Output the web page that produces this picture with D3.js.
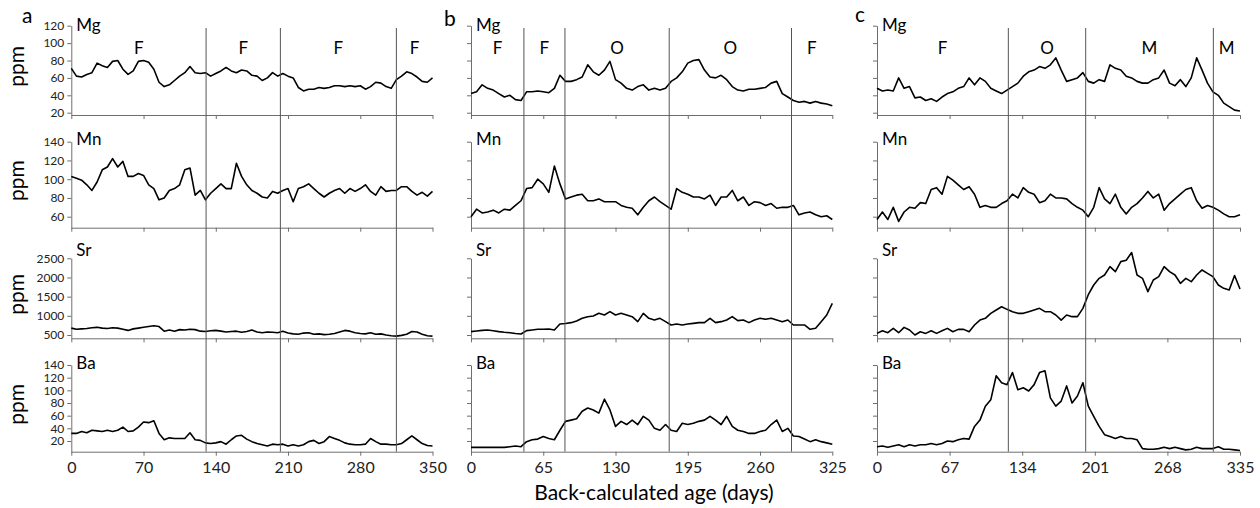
<!DOCTYPE html>
<html>
<head>
<meta charset="utf-8">
<title>Trace elements vs back-calculated age</title>
<script src="https://d3js.org/d3.v7.min.js"></script>
<style>
  body { margin: 0; background: #fff; }
  svg { font-family: Lato, "Open Sans", sans-serif; }
</style>
</head>
<body>
<svg id="chart" width="1260" height="508"></svg>
<script>
// values every 5 days
let mgA = [71,62,61,64,66,77,74,72,79,80, 70,64,68,79,80,78,70,55,50,52, 57,62,66,73,66,65,66,62,65,68,
  72,68,66,69,68,63,62,57,60,66, 62,65,62,60,49,45,47,47,49,48, 49,51,51,50,51,50,51,47,50,55,
  54,50,48,58,62,67,65,61,56,55, 60];
let mnA = [103,101,99,94,88,97,110,113,122,113, 119,103,103,106,104,94,90,78,80,88, 90,94,110,112,83,88,78,85,90,95,
  90,90,117,103,94,88,85,81,80,87, 85,88,90,76,90,92,95,90,85,81, 85,88,90,85,90,87,90,94,87,83,
  92,87,88,88,92,92,87,83,86,82, 87];
let srA = [680,650,660,670,690,700,680,670,690,680, 650,620,660,680,700,720,740,720,600,630, 600,640,630,650,640,600,590,610,620,600,
  580,590,600,570,590,630,580,560,580,570, 560,600,550,530,520,550,560,520,530,510, 520,540,580,620,600,560,540,530,560,520,
  530,500,480,470,490,520,590,580,520,480, 470];
let baA = [32,32,35,33,37,36,35,37,35,37, 42,35,36,42,50,49,52,32,22,25, 24,24,24,33,22,21,17,16,17,19,
  15,22,28,29,23,19,16,14,12,15, 14,15,12,14,12,14,19,21,16,19, 27,24,21,17,15,14,14,15,24,19,
  15,15,14,14,16,22,28,22,16,13, 12];

let mgB = [42,44,52,48,46,42,38,40,35,34, 44,44,45,44,43,48,63,56,56,58, 61,75,67,63,69,79,58,54,48,46,
  50,52,46,48,46,48,56,60,67,77, 80,81,69,61,60,63,58,50,46,45, 47,47,48,49,54,56,42,38,34,32,
  33,31,33,31,30,28];
let mnB = [60,68,64,65,67,64,68,67,72,77, 90,91,100,95,86,114,95,79,81,83, 84,77,77,79,76,76,76,72,70,69,
  62,70,77,81,76,72,68,90,86,84, 81,81,79,83,72,81,81,88,77,81, 72,76,75,72,74,69,70,70,72,62,
  64,65,62,60,61,57];
let srB = [587,605,620,630,610,587,570,560,540,525, 613,630,648,650,657,630,787,800,822,865, 935,978,996,1065,1022,1109,1022,1065,1022,978,
  850,1065,935,891,935,848,761,787,761,787, 804,822,822,935,822,848,891,978,874,891, 822,891,935,909,935,891,848,891,761,761,
  761,648,674,848,1022,1326];
let baB = [10,10,10,10,10,10,10,11,12,11, 19,22,23,27,24,22,37,51,53,55, 67,72,69,64,86,69,43,51,46,53,
  46,59,53,40,37,46,37,35,48,46, 48,51,53,59,53,46,59,43,37,35, 32,32,35,37,46,53,35,40,28,27,
  23,19,22,19,17,15];

let mgC = [48,45,46,45,60,48,50,37,38,34, 36,33,38,42,44,48,50,60,52,60, 56,48,45,42,46,50,54,62,67,69,
  73,71,75,83,69,56,58,60,66,56, 54,58,56,75,71,69,62,60,56,54, 54,58,60,69,54,51,58,50,60,83,
  69,54,44,40,31,27,23,22];
let mnC = [57,65,57,70,55,65,70,69,75,74, 89,91,84,103,99,94,89,92,84,70, 72,70,70,74,77,84,80,91,86,84,
  75,77,84,80,80,79,74,70,67,60, 70,91,79,74,84,70,63,70,74,80, 87,80,84,67,74,79,84,89,91,77,
  69,72,70,67,63,60,60,62];
let srC = [542,612,560,673,560,699,630,499,586,542, 612,542,612,673,586,647,647,586,760,890, 934,1065,1152,1238,1169,1108,1065,1065,1108,1152,
  1195,1108,1108,1021,890,1021,978,978,1195,1550, 1804,1978,2065,2283,2152,2413,2450,2650,2065,1978,
  1630,1935,2021,2283,2152,2065,1848,1978,1891,2065, 2196,2108,2021,1804,1717,1674,2050,1700];
let baC = [11,12,10,12,14,11,14,12,14,14, 16,14,16,20,19,22,24,23,43,53, 75,85,123,112,109,128,101,104,99,109,
  128,131,88,75,83,107,80,91,112,75, 59,43,30,27,24,27,24,24,22,8, 7,7,8,10,8,10,8,6,7,10,
  8,8,8,11,7,7,6,5];

let dayStep = 5;

// x ticks (days) per panel
let xTicksA = [0,70,140,210,280,350];
let xTicksB = [0,65,130,195,260,325];
let xTicksC = [0,67,134,201,268,335];

// y ticks per element row
let mgTicks = [20,40,60,80,100,120];
let mnTicks = [60,80,100,120,140];
let srTicks = [500,1000,1500,2000,2500];
let baTicks = [20,40,60,80,100,120,140];

// habitat boundaries (days) and labels
let dividersA = [130.6, 202.6, 315];
let dividersB = [47.6, 84.5, 178.3, 288.3];
let dividersC = [121.2, 192.6, 310.4];
let segA = ['F','F','F','F'];
let segB = ['F','F','O','O','F'];
let segC = ['F','O','M','M'];

let elements = ['Mg','Mn','Sr','Ba'];

// ---------------- layout ----------------
let svg = d3.select('#chart');

let rows = [
  {ticks: mgTicks, yTop: 25.7, yBot: 112.7, axisY: 115, labelY: 31},
  {ticks: mnTicks, yTop: 141.7, yBot: 216.7, axisY: 227.7, labelY: 145},
  {ticks: srTicks, yTop: 258.3, yBot: 335, axisY: 338.3, labelY: 256},
  {ticks: baTicks, yTop: 365, yBot: 441, axisY: 451.7, labelY: 369}
];

let panels = [
  {letter: 'a', left: 71.3, right: 432.5, xMax: 350, ticks: xTicksA, dividers: dividersA, seg: segA,
   series: [mgA, mnA, srA, baA], letterX: 22, letterY: 23, yLabels: true},
  {letter: 'b', left: 471, right: 832.3, xMax: 325, ticks: xTicksB, dividers: dividersB, seg: segB,
   series: [mgB, mnB, srB, baB], letterX: 444, letterY: 26, yLabels: false},
  {letter: 'c', left: 877, right: 1240, xMax: 335, ticks: xTicksC, dividers: dividersC, seg: segC,
   series: [mgC, mnC, srC, baC], letterX: 855, letterY: 22, yLabels: false}
];

let axisColor = '#6e6e6e';

function styleAxis(g) {
  g.selectAll('path, line').attr('stroke', axisColor).attr('stroke-width', 1);
  g.selectAll('text').attr('fill', '#222');
}

panels.forEach(function(p) {
  let x = d3.scaleLinear().domain([0, p.xMax]).range([p.left, p.right]);

  rows.forEach(function(r, ri) {
    let lo = r.ticks[0], hi = r.ticks[r.ticks.length - 1];
    let base = d3.scaleLinear().domain([lo, hi]).range([r.yBot, r.yTop]);
    let y = d3.scaleLinear().domain([base.invert(r.axisY), hi]).range([r.axisY, r.yTop]);

    // y axis
    let yAxis = d3.axisLeft(y).tickValues(r.ticks).tickSize(4).tickSizeOuter(0).tickPadding(3)
      .tickFormat(p.yLabels ? d3.format('d') : '');
    let yg = svg.append('g').attr('transform', 'translate(' + p.left + ',0)').call(yAxis);
    yg.selectAll('text').attr('font-size', 12).attr('font-family', 'Lato, sans-serif');
    styleAxis(yg);

    // x axis
    let xAxis = d3.axisBottom(x).tickValues(p.ticks).tickSize(4).tickSizeOuter(0).tickPadding(6)
      .tickFormat(ri < rows.length - 1 ? '' : d3.format('d'));
    let xg = svg.append('g').attr('transform', 'translate(0,' + r.axisY + ')').call(xAxis);
    xg.selectAll('text').attr('font-size', 16).attr('font-family', 'Lato, sans-serif');
    styleAxis(xg);

    // data line
    let data = p.series[ri].map((v, i) => ({day: i * dayStep, v: v}));
    let line = d3.line().x(d => x(d.day)).y(d => y(d.v));
    svg.append('path').datum(data)
      .attr('d', line)
      .attr('fill', 'none')
      .attr('stroke', '#000')
      .attr('stroke-width', 1.6)
      .attr('stroke-linejoin', 'round');

    // element label
    svg.append('text')
      .attr('x', p.left + 5).attr('y', r.labelY)
      .attr('font-size', 17).attr('fill', '#000')
      .text(elements[ri]);

    // ppm label on panel a
    if (p.yLabels) {
      let mid = (r.yTop + r.axisY) / 2 - 4;
      svg.append('text')
        .attr('transform', 'translate(24,' + mid + ') rotate(-90)')
        .attr('text-anchor', 'middle')
        .attr('font-size', 21)
        .text('ppm');
    }
  });

  // habitat dividers
  p.dividers.forEach(function(d) {
    svg.append('line')
      .attr('x1', x(d)).attr('x2', x(d))
      .attr('y1', 28).attr('y2', rows[3].axisY)
      .attr('stroke', '#555').attr('stroke-width', 1);
  });

  // habitat labels, centred between dividers
  let edges = [0].concat(p.dividers, [p.xMax]);
  p.seg.forEach(function(s, i) {
    svg.append('text')
      .attr('x', x((edges[i] + edges[i + 1]) / 2))
      .attr('y', 54)
      .attr('text-anchor', 'middle')
      .attr('font-size', 17)
      .text(s);
  });

  // panel letter
  svg.append('text')
    .attr('x', p.letterX).attr('y', p.letterY)
    .attr('font-size', 21)
    .text(p.letter);
});

// shared x-axis title
svg.append('text')
  .attr('x', 654).attr('y', 500)
  .attr('text-anchor', 'middle')
  .attr('font-size', 21)
  .text('Back-calculated age (days)');
</script>
</body>
</html>
